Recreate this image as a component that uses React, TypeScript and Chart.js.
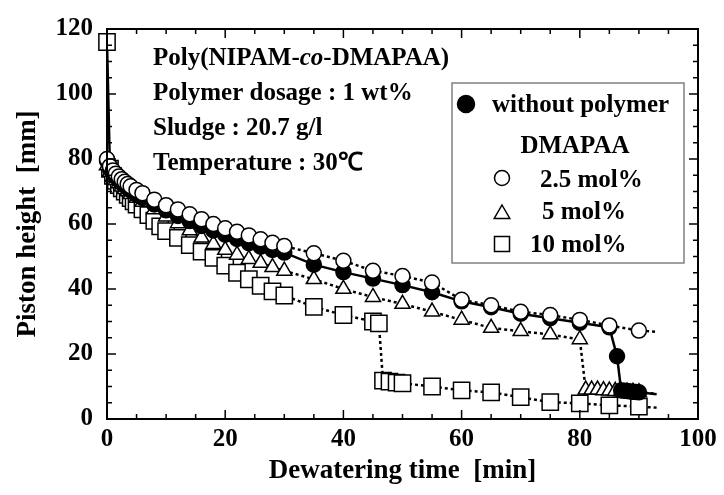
import React, { useEffect, useRef } from 'react';
import { Chart, registerables } from 'chart.js';

Chart.register(...registerables);

const FONT = '"Liberation Serif", "Times New Roman", Times, serif';

// without polymer (filled circles, solid line); last point = end of line only
const T_NONE = [0, 0.5, 1, 1.5, 2, 2.5, 3, 3.5, 4, 5, 6, 8, 10, 12, 14, 16, 18, 20, 22, 24, 26, 28, 30, 35, 40, 45, 50, 55, 60, 65, 70, 75, 80, 85, 86.3, 87, 87.5, 88, 88.5, 89, 89.5, 90, 93];
const H_NONE = [79.5, 77, 75.6, 74.5, 73.5, 72.6, 71.8, 71, 70.3, 69, 68, 66, 64.2, 62.5, 60.9, 59.4, 58, 56.7, 55.4, 54.1, 53, 52, 51.2, 47.5, 45.2, 43.2, 41.2, 39, 36.2, 34.4, 32.4, 31, 29.6, 28.2, 19.3, 8.8, 8.7, 8.6, 8.5, 8.4, 8.3, 8.2, 7.6];

// DMAPAA 2.5 mol% (open circles)
const T_25 = [0, 0.5, 1, 1.5, 2, 2.5, 3, 3.5, 4, 5, 6, 8, 10, 12, 14, 16, 18, 20, 22, 24, 26, 28, 30, 35, 40, 45, 50, 55, 60, 65, 70, 75, 80, 85, 90, 93];
const H_25 = [80, 77.8, 76.5, 75.5, 74.6, 73.8, 73, 72.3, 71.6, 70.5, 69.5, 67.5, 65.8, 64.5, 63, 61.5, 60, 58.7, 57.6, 56.5, 55.3, 54.2, 53.2, 51, 48.7, 45.6, 44, 42, 36.7, 35, 33, 32, 30.5, 28.8, 27.2, 26.8];

// DMAPAA 5 mol% (triangles)
const T_5 = [0, 0.5, 1, 1.5, 2, 2.5, 3, 3.5, 4, 5, 6, 8, 10, 12, 14, 16, 18, 20, 22, 24, 26, 28, 30, 35, 40, 45, 50, 55, 60, 65, 70, 75, 80, 81, 82, 83, 84, 85, 86, 87, 88, 89, 90, 93];
const H_5 = [78, 76, 74.5, 73.5, 72.5, 71.5, 70.7, 70, 69.2, 68, 66.8, 64.5, 62.3, 60.2, 58, 55.8, 53.8, 52, 50.5, 49.2, 48, 46.7, 45.6, 43, 40, 37.5, 35.4, 33, 30.5, 28, 27, 26, 24.5, 9, 9, 9, 8.8, 8.7, 8.6, 8.5, 8.4, 8.3, 8.2, 7.8];

// DMAPAA 10 mol% (squares)
const T_10 = [0, 0.5, 1, 1.5, 2, 2.5, 3, 3.5, 4, 4.5, 5, 6, 7, 8, 9, 10, 12, 14, 16, 18, 20, 22, 24, 26, 28, 30, 35, 40, 45, 46, 46.7, 47.8, 49, 50, 55, 60, 65, 70, 75, 80, 85, 90, 93];
const H_10 = [116, 77, 74.8, 73.3, 72, 71, 70, 69, 68, 67, 66, 64.5, 62.7, 61, 59.3, 57.8, 55.7, 53.5, 51.5, 49.6, 47.2, 45, 43, 41, 39.3, 38, 34.5, 32, 30, 29.4, 11.8, 11.5, 11.2, 11, 10, 8.8, 8.2, 6.7, 5.2, 4.8, 4.2, 3.8, 3.5];

const X_TITLE = 'Dewatering time  [min]';
const Y_TITLE = 'Piston height  [mm]';
const INFO_TITLE = ['Poly(NIPAM-', 'co', '-DMAPAA)'];
const INFO_LINES = ['Polymer dosage : 1 wt%', 'Sludge : 20.7 g/l', 'Temperature : 30\u2103'];
const LEGEND_NONE = 'without polymer';
const LEGEND_HEAD = 'DMAPAA';
const LEGEND_LABELS = ['2.5 mol%', '5 mol%', '10 mol%'];

function toPts(t: number[], h: number[]) {
  return t.map((x, i) => ({ x, y: h[i] }));
}

function drawMarker(ctx: CanvasRenderingContext2D, kind: string, x: number, y: number, r: number, filled: boolean) {
  ctx.beginPath();
  if (kind === 'circle') {
    ctx.arc(x, y, r, 0, Math.PI * 2);
  } else if (kind === 'triangle') {
    ctx.moveTo(x, y - r);
    ctx.lineTo(x + r * 0.866, y + r * 0.5);
    ctx.lineTo(x - r * 0.866, y + r * 0.5);
    ctx.closePath();
  } else {
    ctx.rect(x - r, y - r, 2 * r, 2 * r);
  }
  ctx.fillStyle = filled ? '#000' : '#fff';
  ctx.fill();
  ctx.lineWidth = 1.5;
  ctx.strokeStyle = '#000';
  ctx.stroke();
}

const framePlugin = {
  id: 'frameTicks',
  afterDatasetsDraw(chart: any) {
    const { ctx, chartArea: a, scales } = chart;
    const xs = scales.x;
    const ys = scales.y;
    ctx.save();
    ctx.strokeStyle = '#000';
    ctx.lineWidth = 1.5;
    ctx.beginPath();
    for (let v = 0; v <= 100; v += 5) {
      const px = xs.getPixelForValue(v);
      const len = v % 20 === 0 ? 9 : 5;
      ctx.moveTo(px, a.bottom); ctx.lineTo(px, a.bottom - len);
      ctx.moveTo(px, a.top); ctx.lineTo(px, a.top + len);
    }
    for (let v = 0; v <= 120; v += 5) {
      const py = ys.getPixelForValue(v);
      const len = v % 20 === 0 ? 9 : 5;
      ctx.moveTo(a.left, py); ctx.lineTo(a.left + len, py);
      ctx.moveTo(a.right, py); ctx.lineTo(a.right - len, py);
    }
    ctx.stroke();
    ctx.lineWidth = 2;
    ctx.strokeRect(a.left, a.top, a.right - a.left, a.bottom - a.top);
    ctx.restore();
  },
};

const textPlugin = {
  id: 'texts',
  afterDraw(chart: any) {
    const { ctx } = chart;
    ctx.save();
    ctx.fillStyle = '#000';
    ctx.textBaseline = 'alphabetic';
    ctx.textAlign = 'left';
    let x = 153;
    const bold = `bold 25px ${FONT}`;
    const italic = `italic bold 25px ${FONT}`;
    INFO_TITLE.forEach((s, i) => {
      ctx.font = i === 1 ? italic : bold;
      ctx.fillText(s, x, 65);
      x += ctx.measureText(s).width;
    });
    ctx.font = bold;
    INFO_LINES.forEach((s, i) => ctx.fillText(s, 153, 100 + i * 35));

    ctx.strokeStyle = '#808080';
    ctx.lineWidth = 1.5;
    ctx.strokeRect(452, 83, 232, 180);
    drawMarker(ctx, 'circle', 466, 104, 8.5, true);
    ctx.fillStyle = '#000';
    ctx.font = bold;
    ctx.fillText(LEGEND_NONE, 492, 112);
    ctx.textAlign = 'center';
    ctx.fillText(LEGEND_HEAD, 575, 153);
    ctx.textAlign = 'left';
    const kinds = ['circle', 'triangle', 'square'];
    const ys = [178, 212, 244];
    const rs = [7.5, 9, 7.5];
    const tx = [540, 542, 530];
    const by = [187, 219, 252];
    LEGEND_LABELS.forEach((s, i) => {
      drawMarker(ctx, kinds[i], 502, ys[i] + (kinds[i] === 'triangle' ? 2 : 0), rs[i], false);
      ctx.fillStyle = '#000';
      ctx.font = bold;
      ctx.fillText(s, tx[i], by[i]);
    });
    ctx.restore();
  },
};

export default function App() {
  const ref = useRef<HTMLCanvasElement>(null);
  useEffect(() => {
    if (!ref.current) return;
    const lastHidden = (n: number, r: number) => (c: any) => (c.dataIndex === n - 1 ? 0 : r);
    const chart = new Chart(ref.current, {
      type: 'scatter',
      data: {
        datasets: [
          {
            label: '2.5 mol%',
            data: toPts(T_25, H_25),
            showLine: true,
            borderColor: '#000',
            borderWidth: 2.5,
            borderDash: [3, 3],
            pointStyle: 'circle',
            pointRadius: lastHidden(T_25.length, 7.5),
            pointBackgroundColor: '#fff',
            pointBorderColor: '#000',
            pointBorderWidth: 1.5,
            order: 0,
            clip: false,
          } as any,
          {
            label: 'without polymer',
            data: toPts(T_NONE, H_NONE),
            showLine: true,
            borderColor: '#000',
            borderWidth: 2.5,
            pointStyle: 'circle',
            pointRadius: lastHidden(T_NONE.length, 7.5),
            pointBackgroundColor: '#000',
            pointBorderColor: '#000',
            pointBorderWidth: 1.5,
            order: 1,
            clip: false,
          },
          {
            label: '5 mol%',
            data: toPts(T_5, H_5),
            showLine: true,
            borderColor: '#000',
            borderWidth: 2.5,
            borderDash: [3, 3],
            pointStyle: 'triangle',
            pointRadius: lastHidden(T_5.length, 8.7),
            pointBackgroundColor: '#fff',
            pointBorderColor: '#000',
            pointBorderWidth: 1.5,
            order: 2,
            clip: false,
          },
          {
            label: '10 mol%',
            data: toPts(T_10, H_10),
            showLine: true,
            borderColor: '#000',
            borderWidth: 2.5,
            borderDash: [3, 3],
            segment: { borderDash: (c: any) => (c.p0DataIndex === 0 ? [] : [3, 3]) },
            pointStyle: 'rect',
            pointRadius: lastHidden(T_10.length, 11.5),
            pointBackgroundColor: '#fff',
            pointBorderColor: '#000',
            pointBorderWidth: 1.5,
            order: 3,
            clip: false,
          },
        ],
      },
      options: {
        animation: false,
        responsive: false,
        events: [],
        layout: { padding: { left: 0, right: 26, top: 22, bottom: 0 } },
        plugins: { legend: { display: false }, tooltip: { enabled: false } },
        scales: {
          x: {
            type: 'linear',
            min: 0,
            max: 100,
            grid: { display: false, drawTicks: false },
            border: { display: false },
            ticks: { stepSize: 20, color: '#000', font: { family: FONT, size: 25, weight: 'bold' }, padding: 6 },
            title: { display: true, text: X_TITLE, color: '#000', font: { family: FONT, size: 27, weight: 'bold' }, padding: { top: 12, bottom: 8 } },
            afterFit: (s: any) => { s.height = 76; },
          },
          y: {
            type: 'linear',
            min: 0,
            max: 120,
            grid: { display: false, drawTicks: false },
            border: { display: false },
            ticks: { stepSize: 20, color: '#000', font: { family: FONT, size: 25, weight: 'bold' }, padding: 14 },
            title: { display: true, text: Y_TITLE, color: '#000', font: { family: FONT, size: 27, weight: 'bold' }, padding: { top: 12, bottom: 8 } },
            afterFit: (s: any) => { s.width = 107; },
          },
        },
      } as any,
      plugins: [framePlugin, textPlugin],
    });
    return () => chart.destroy();
  }, []);
  return (
    <div style={{ position: 'absolute', left: 0, top: 0, width: 724, height: 495, background: '#fff' }}>
      <canvas ref={ref} width={724} height={495} style={{ display: 'block' }} />
    </div>
  );
}
